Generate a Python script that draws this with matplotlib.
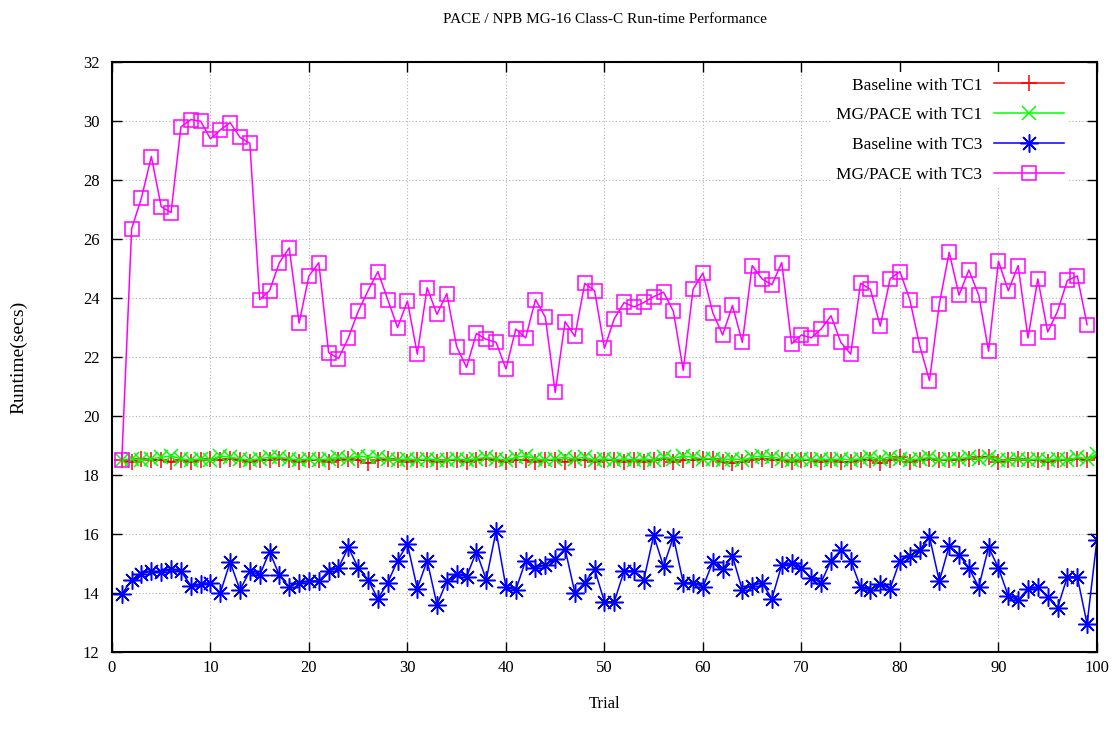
import matplotlib.pyplot as plt

plt.rcParams["font.family"] = ["Liberation Serif", "DejaVu Serif"]

trials = list(range(1, 101))

base_tc1 = [18.5, 18.45, 18.55, 18.5, 18.5, 18.45, 18.5, 18.45, 18.5, 18.55,
            18.5, 18.55, 18.5, 18.45, 18.5, 18.5, 18.55, 18.5, 18.45, 18.5,
            18.5, 18.45, 18.5, 18.55, 18.5, 18.4, 18.5, 18.55, 18.5, 18.45,
            18.5, 18.5, 18.45, 18.5, 18.5, 18.45, 18.5, 18.55, 18.5, 18.45,
            18.5, 18.5, 18.45, 18.5, 18.5, 18.45, 18.5, 18.5, 18.45, 18.5,
            18.5, 18.45, 18.5, 18.45, 18.5, 18.55, 18.45, 18.5, 18.5, 18.55,
            18.55, 18.45, 18.4, 18.45, 18.5, 18.55, 18.5, 18.5, 18.45, 18.5,
            18.5, 18.45, 18.5, 18.45, 18.45, 18.5, 18.5, 18.4, 18.5, 18.6,
            18.45, 18.5, 18.55, 18.5, 18.5, 18.5, 18.55, 18.6, 18.6, 18.45,
            18.5, 18.55, 18.5, 18.5, 18.45, 18.5, 18.5, 18.55, 18.5, 18.6]

mg_tc1 = [18.5, 18.55, 18.5, 18.55, 18.6, 18.65, 18.55, 18.5, 18.55, 18.5,
          18.65, 18.6, 18.55, 18.5, 18.55, 18.6, 18.6, 18.55, 18.5, 18.55,
          18.5, 18.55, 18.6, 18.55, 18.65, 18.6, 18.6, 18.55, 18.5, 18.55,
          18.5, 18.55, 18.5, 18.5, 18.55, 18.5, 18.55, 18.6, 18.55, 18.5,
          18.6, 18.65, 18.55, 18.5, 18.55, 18.6, 18.55, 18.6, 18.5, 18.55,
          18.5, 18.55, 18.5, 18.55, 18.5, 18.6, 18.55, 18.65, 18.6, 18.55,
          18.55, 18.5, 18.55, 18.5, 18.6, 18.65, 18.6, 18.55, 18.5, 18.55,
          18.5, 18.55, 18.5, 18.55, 18.5, 18.55, 18.6, 18.55, 18.6, 18.55,
          18.5, 18.55, 18.6, 18.5, 18.55, 18.55, 18.6, 18.55, 18.6, 18.5,
          18.5, 18.55, 18.5, 18.55, 18.5, 18.55, 18.5, 18.6, 18.55, 18.7]

base_tc3 = [13.95, 14.45, 14.65, 14.75, 14.7, 14.8, 14.75, 14.25, 14.3, 14.35,
            14.0, 15.05, 14.1, 14.75, 14.6, 15.4, 14.6, 14.2, 14.35, 14.4,
            14.4, 14.75, 14.85, 15.55, 14.85, 14.45, 13.8, 14.35, 15.1, 15.65,
            14.15, 15.1, 13.6, 14.4, 14.65, 14.55, 15.4, 14.45, 16.1, 14.2,
            14.1, 15.1, 14.85, 14.95, 15.15, 15.5, 14.0, 14.35, 14.8, 13.7,
            13.7, 14.75, 14.75, 14.45, 15.95, 14.9, 15.9, 14.35, 14.35, 14.2,
            15.05, 14.8, 15.25, 14.1, 14.25, 14.35, 13.8, 14.95, 15.0, 14.85,
            14.5, 14.35, 15.1, 15.45, 15.1, 14.2, 14.1, 14.3, 14.15, 15.1,
            15.25, 15.45, 15.9, 14.4, 15.6, 15.3, 14.85, 14.2, 15.55, 14.85,
            13.9, 13.75, 14.15, 14.2, 13.85, 13.5, 14.55, 14.55, 12.95, 15.8]

mg_tc3 = [18.5, 26.35, 27.4, 28.8, 27.1, 26.9, 29.8, 30.05, 30.0, 29.4,
          29.7, 29.95, 29.45, 29.25, 23.95, 24.25, 25.2, 25.7, 23.15, 24.75,
          25.2, 22.15, 21.95, 22.65, 23.55, 24.25, 24.9, 23.95, 23.0, 23.9,
          22.1, 24.35, 23.45, 24.15, 22.35, 21.65, 22.8, 22.6, 22.5, 21.6,
          22.95, 22.65, 23.95, 23.35, 20.8, 23.2, 22.7, 24.5, 24.25, 22.3,
          23.3, 23.85, 23.7, 23.85, 24.05, 24.2, 23.55, 21.55, 24.3, 24.85,
          23.5, 22.75, 23.75, 22.5, 25.1, 24.65, 24.45, 25.2, 22.45, 22.75,
          22.65, 22.95, 23.4, 22.5, 22.1, 24.5, 24.3, 23.05, 24.65, 24.9,
          23.95, 22.4, 21.2, 23.8, 25.55, 24.1, 24.95, 24.1, 22.2, 25.25,
          24.25, 25.1, 22.65, 24.65, 22.85, 23.55, 24.6, 24.75, 23.1]

fig = plt.figure(figsize=(11.15, 7.4), dpi=100)
ax = fig.add_axes([0.1004, 0.119, 0.8834, 0.797])

ax.plot(trials, base_tc1, color="#ff0000", marker="+", ms=12, mew=1.1, lw=1.1,
        label="Baseline with TC1")
ax.plot(trials, mg_tc1, color="#00ff00", marker="x", ms=10, mew=1.1, lw=1.1,
        label="MG/PACE with TC1")
ax.plot(trials, base_tc3, color="#0000ff", marker=(8, 2, 0), ms=13, mew=1.1, lw=1.1,
        label="Baseline with TC3")
ax.plot(trials[:len(mg_tc3)], mg_tc3, color="#ff00ff", marker="s", ms=9.5, mew=1.1,
        mfc="none", lw=1.1, label="MG/PACE with TC3")

ax.set_xlim(0, 100)
ax.set_ylim(12, 32)
ax.set_xticks(range(0, 101, 10))
ax.set_yticks(range(12, 33, 2))
ax.tick_params(direction="in", length=7, width=1, top=True, right=True,
               labelsize=12)
ax.tick_params(axis="x", pad=6)
ax.tick_params(axis="y", pad=9)
for s in ax.spines.values():
    s.set_linewidth(1.5)
ax.grid(True, color="#b0b0b0", linestyle=(0, (1, 2)), linewidth=0.8)
ax.set_axisbelow(True)

ax.set_title("PACE / NPB MG-16 Class-C Run-time Performance", fontsize=11, pad=28)
ax.set_xlabel("Trial", fontsize=12, labelpad=14)
ax.set_ylabel("Runtime(secs)", fontsize=14, labelpad=40)

leg = ax.legend(loc="upper right", bbox_to_anchor=(0.9716, 0.983),
                markerfirst=False, frameon=True, fontsize=12.5,
                handlelength=4.0, handletextpad=0.7, borderaxespad=0,
                borderpad=0.3, labelspacing=0.78, fancybox=False, framealpha=1)
leg.get_frame().set_edgecolor("none")

fig.savefig("out.png", dpi=100)
